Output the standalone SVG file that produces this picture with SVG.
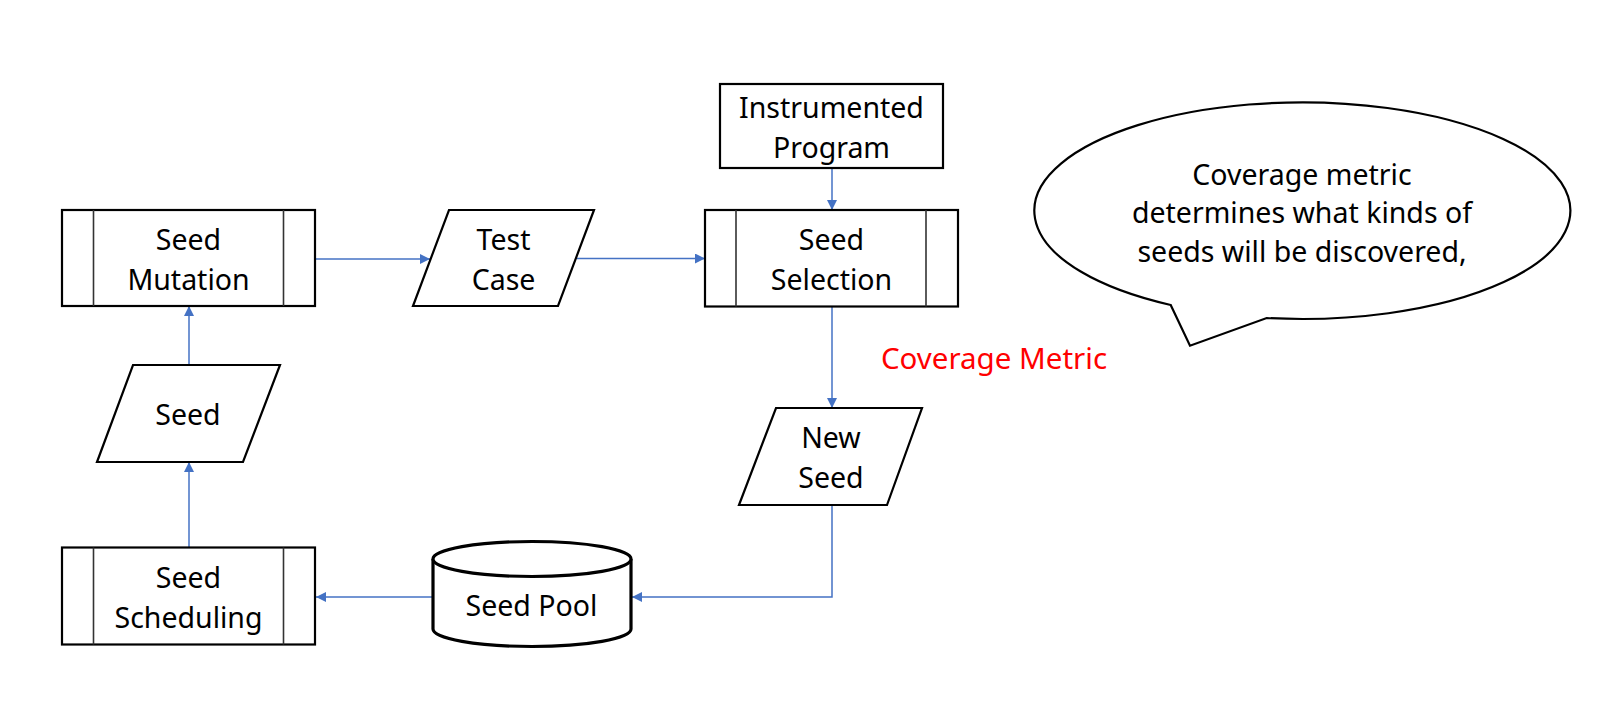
<svg xmlns="http://www.w3.org/2000/svg" width="1598" height="708" viewBox="0 0 1598 708">
<defs>
<style>
.box{fill:#fff;stroke:#000;stroke-width:2.2}
.inner{stroke:#333;stroke-width:1.6;fill:none}
.cyl{fill:#fff;stroke:#000;stroke-width:3.2}
.t{font-family:"Noto Sans","Liberation Sans",sans-serif;font-size:28.5px;fill:#000;text-anchor:middle}
.red{font-family:"Noto Sans","Liberation Sans",sans-serif;font-size:29.5px;fill:#ff0000;text-anchor:middle}
.conn{fill:none;stroke:#4472C4;stroke-width:1.5}
</style>
<marker id="ah" markerWidth="10" markerHeight="10" refX="10" refY="5" orient="auto" markerUnits="userSpaceOnUse">
<path d="M0,0 L10,5 L0,10 Z" fill="#4472C4"/>
</marker>
</defs>
<rect width="1598" height="708" fill="#fff"/>

<g id="connectors">
<path class="conn" d="M315,259 L430,259" marker-end="url(#ah)"/>
<path class="conn" d="M577,258.5 L705,258.5" marker-end="url(#ah)"/>
<path class="conn" d="M832,168 L832,210" marker-end="url(#ah)"/>
<path class="conn" d="M832,307 L832,408" marker-end="url(#ah)"/>
<path class="conn" d="M832,505 L832,597 L632,597" marker-end="url(#ah)"/>
<path class="conn" d="M433,597 L316,597" marker-end="url(#ah)"/>
<path class="conn" d="M189,547 L189,462" marker-end="url(#ah)"/>
<path class="conn" d="M189,365 L189,306" marker-end="url(#ah)"/>
</g>

<g id="seed-mutation">
<rect class="box" x="62" y="210" width="253" height="96"/>
<line class="inner" x1="93.5" y1="210" x2="93.5" y2="306"/>
<line class="inner" x1="283.5" y1="210" x2="283.5" y2="306"/>
<text class="t" x="188.5" y="249.5">Seed</text>
<text class="t" x="188.5" y="289.5">Mutation</text>
</g>

<g id="test-case">
<polygon class="box" points="449,210 594,210 558,306 413,306"/>
<text class="t" x="503.5" y="249.5">Test</text>
<text class="t" x="503.5" y="289.5">Case</text>
</g>

<g id="instrumented-program">
<rect class="box" x="720" y="84" width="223" height="84"/>
<text class="t" x="831.5" y="117.5">Instrumented</text>
<text class="t" x="831.5" y="157.5">Program</text>
</g>

<g id="seed-selection">
<rect class="box" x="705" y="210" width="253" height="96.5"/>
<line class="inner" x1="736" y1="210" x2="736" y2="306.5"/>
<line class="inner" x1="926" y1="210" x2="926" y2="306.5"/>
<text class="t" x="831.5" y="250">Seed</text>
<text class="t" x="831.5" y="290">Selection</text>
</g>

<g id="coverage-metric-label">
<text class="red" x="994" y="369">Coverage Metric</text>
</g>

<g id="new-seed">
<polygon class="box" points="776,408 922,408 887,505 739,505"/>
<text class="t" x="831" y="448">New</text>
<text class="t" x="831" y="488">Seed</text>
</g>

<g id="seed-pool">
<path class="cyl" d="M433,559 L433,629 A99,17.5 0 0 0 631,629 L631,559 A99,17.5 0 0 0 433,559 Z"/>
<path class="cyl" d="M433,559 A99,17.5 0 0 0 631,559"/>
<text class="t" x="531.5" y="616">Seed Pool</text>
</g>

<g id="seed-scheduling">
<rect class="box" x="62" y="547.5" width="253" height="97"/>
<line class="inner" x1="93.5" y1="547.5" x2="93.5" y2="644.5"/>
<line class="inner" x1="283.5" y1="547.5" x2="283.5" y2="644.5"/>
<text class="t" x="188.5" y="587.5">Seed</text>
<text class="t" x="188.5" y="627.5">Scheduling</text>
</g>

<g id="seed">
<polygon class="box" points="133,365 280,365 243,462 97,462"/>
<text class="t" x="188" y="425">Seed</text>
</g>

<g id="callout">
<path class="box" d="M1170.7,305 A268,108.3 0 1 1 1266.7,318 L1190,345.7 Z"/>
<text class="t" x="1302" y="185">Coverage metric</text>
<text class="t" x="1302" y="223.3">determines what kinds of</text>
<text class="t" x="1302" y="261.7">seeds will be discovered,</text>
</g>
</svg>
